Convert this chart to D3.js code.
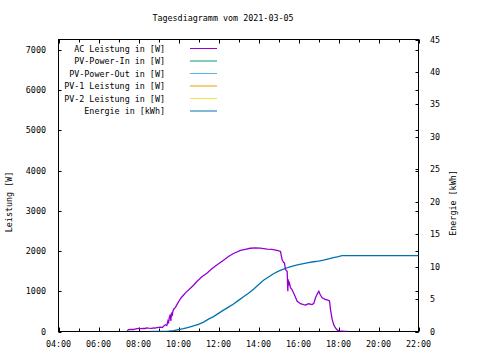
<!DOCTYPE html>
<html><head><meta charset="utf-8">
<script src="https://cdn.jsdelivr.net/npm/d3@7"></script>
<style>body{margin:0;background:#fff}svg{display:block}text{font-family:"DejaVu Sans Mono",monospace;font-size:8.4px;fill:#000}</style>
</head><body><div id="c"></div>
<script>
const title = "Tagesdiagramm vom 2021-03-05";
const seriesNames = ["AC Leistung in [W]","PV-Power-In in [W]","PV-Power-Out in [W]","PV-1 Leistung in [W]","PV-2 Leistung in [W]","Energie in [kWh]"];
const seriesColors = ["#9400d3","#009e73","#56b4e9","#e69f00","#f0e442","#0072b2"];
const xTickLabels = ["04:00","06:00","08:00","10:00","12:00","14:00","16:00","18:00","20:00","22:00"];
const yTicks = [0,1000,2000,3000,4000,5000,6000,7000];
const y2Ticks = [0,5,10,15,20,25,30,35,40,45];

// AC Leistung [W]
const acTimes = ["07:26","07:30","07:36","07:45","07:50","07:55","08:00","08:06","08:15","08:20","08:25","08:30","08:40","08:45","08:50","08:55","09:00","09:06","09:12","09:16","09:21","09:25","09:28","09:30","09:32","09:35","09:37","09:39","09:41","09:43","09:46","09:51","09:56","10:01","10:08","10:16","10:23","10:31","10:45","10:56","11:10","11:26","11:40","11:56","12:15","12:31","12:45","13:06","13:20","13:35","13:51","14:05","14:26","14:40","14:56","15:06","15:08","15:11","15:15","15:18","15:21","15:24","15:26","15:28","15:29","15:31","15:33","15:36","15:40","15:45","15:50","15:56","16:06","16:15","16:22","16:30","16:41","16:46","16:51","16:56","17:01","17:05","17:11","17:20","17:30","17:33","17:36","17:41","17:46","17:51","17:56","18:01","18:10","18:20","18:27"];
const acValues = [20,45,55,50,60,70,75,70,80,75,90,85,80,90,85,95,105,110,100,140,170,150,255,200,330,420,260,470,380,500,560,600,680,750,840,915,980,1040,1150,1250,1360,1455,1560,1660,1770,1870,1940,2017,2045,2070,2080,2075,2050,2040,2017,1990,1900,1785,1720,1700,1540,1510,1495,1000,1300,1150,1200,1090,1050,965,870,750,690,670,660,690,670,700,840,930,1000,920,840,800,775,760,545,300,160,90,40,15,10,5,0];

// Energie [kWh]
const enTimes = ["08:36","09:00","09:15","09:30","09:45","10:00","10:15","10:30","10:45","11:00","11:15","11:30","11:45","12:00","12:15","12:30","12:45","13:00","13:15","13:30","13:45","14:00","14:15","14:30","14:45","15:00","15:15","15:30","15:45","16:00","16:15","16:30","16:45","17:00","17:15","17:30","17:45","18:00","18:10","22:00"];
const enValues = [0,0,0,0.05,0.15,0.3,0.45,0.65,0.85,1.1,1.45,1.9,2.3,2.8,3.3,3.75,4.25,4.8,5.35,5.9,6.5,7.2,7.9,8.4,8.9,9.3,9.6,9.9,10.1,10.3,10.45,10.6,10.75,10.85,11.0,11.2,11.4,11.55,11.7,11.7];

const W = 480, H = 360;
const L = 58.5, R = 418.5, T = 39.5, B = 331.5;
const svg = d3.select("#c").append("svg").attr("width",W).attr("height",H);

const toH = s => { const [h,m] = s.split(":").map(Number); return h + m/60; };
const x = d3.scaleLinear().domain([4,22]).range([L,R]);
const y = d3.scaleLinear().domain([0,7261]).range([B,T]);
const y2 = d3.scaleLinear().domain([0,45]).range([B,T]);

// title
svg.append("text").attr("x",223).attr("y",21).attr("text-anchor","middle").text(title);

// frame
svg.append("rect").attr("x",L).attr("y",T).attr("width",R-L).attr("height",B-T)
  .attr("fill","none").attr("stroke","#000").attr("stroke-width",1);

const tk = 3;
const g = svg.append("g").attr("stroke","#000").attr("stroke-width",1);
d3.range(4,23,1).forEach(h => {
  const len = (h % 2 === 0) ? tk+1 : tk;
  const px = Math.round(x(h)) + 0.5;
  g.append("line").attr("x1",px).attr("x2",px).attr("y1",B).attr("y2",B-len);
  g.append("line").attr("x1",px).attr("x2",px).attr("y1",T).attr("y2",T+len);
});
yTicks.forEach(v => {
  const py = Math.round(y(v)) + 0.5;
  g.append("line").attr("x1",L).attr("x2",L+tk).attr("y1",py).attr("y2",py);
  g.append("line").attr("x1",R).attr("x2",R-tk).attr("y1",py).attr("y2",py);
});
y2Ticks.forEach(v => {
  const py = Math.round(y2(v)) + 0.5;
  g.append("line").attr("x1",R).attr("x2",R-tk).attr("y1",py).attr("y2",py);
});

xTickLabels.forEach(s => {
  svg.append("text").attr("x",x(toH(s))).attr("y",347).attr("text-anchor","middle").text(s);
});
yTicks.forEach(v => {
  svg.append("text").attr("x",46).attr("y",y(v)+3).attr("text-anchor","end").text(v);
});
y2Ticks.forEach(v => {
  svg.append("text").attr("x",430).attr("y",y2(v)+3).attr("text-anchor","start").text(v);
});

svg.append("text").attr("transform","translate(12,202) rotate(-90)").attr("text-anchor","middle").text("Leistung [W]");
svg.append("text").attr("transform","translate(456,203) rotate(-90)").attr("text-anchor","middle").text("Energie [kWh]");

svg.append("clipPath").attr("id","pc").append("rect").attr("x",L).attr("y",T).attr("width",R-L).attr("height",B-T);
const acData = acTimes.map((t,i)=>[toH(t),acValues[i]]);
const enData = enTimes.map((t,i)=>[toH(t),enValues[i]]);

svg.append("path").datum(enData)
  .attr("d", d3.line().x(d=>x(d[0])).y(d=>y2(d[1])))
  .attr("fill","none").attr("stroke",seriesColors[5]).attr("stroke-width",1.3).attr("clip-path","url(#pc)");
svg.append("path").datum(acData)
  .attr("d", d3.line().x(d=>x(d[0])).y(d=>y(d[1])))
  .attr("fill","none").attr("stroke",seriesColors[0]).attr("stroke-width",1.3).attr("clip-path","url(#pc)");

seriesNames.forEach((n,i) => {
  const ly = 48.5 + i*12.5;
  svg.append("text").attr("x",165).attr("y",ly+3).attr("text-anchor","end").text(n);
  svg.append("line").attr("x1",190).attr("x2",217).attr("y1",ly).attr("y2",ly)
    .attr("stroke",seriesColors[i]).attr("stroke-width",1);
});
</script></body></html>
